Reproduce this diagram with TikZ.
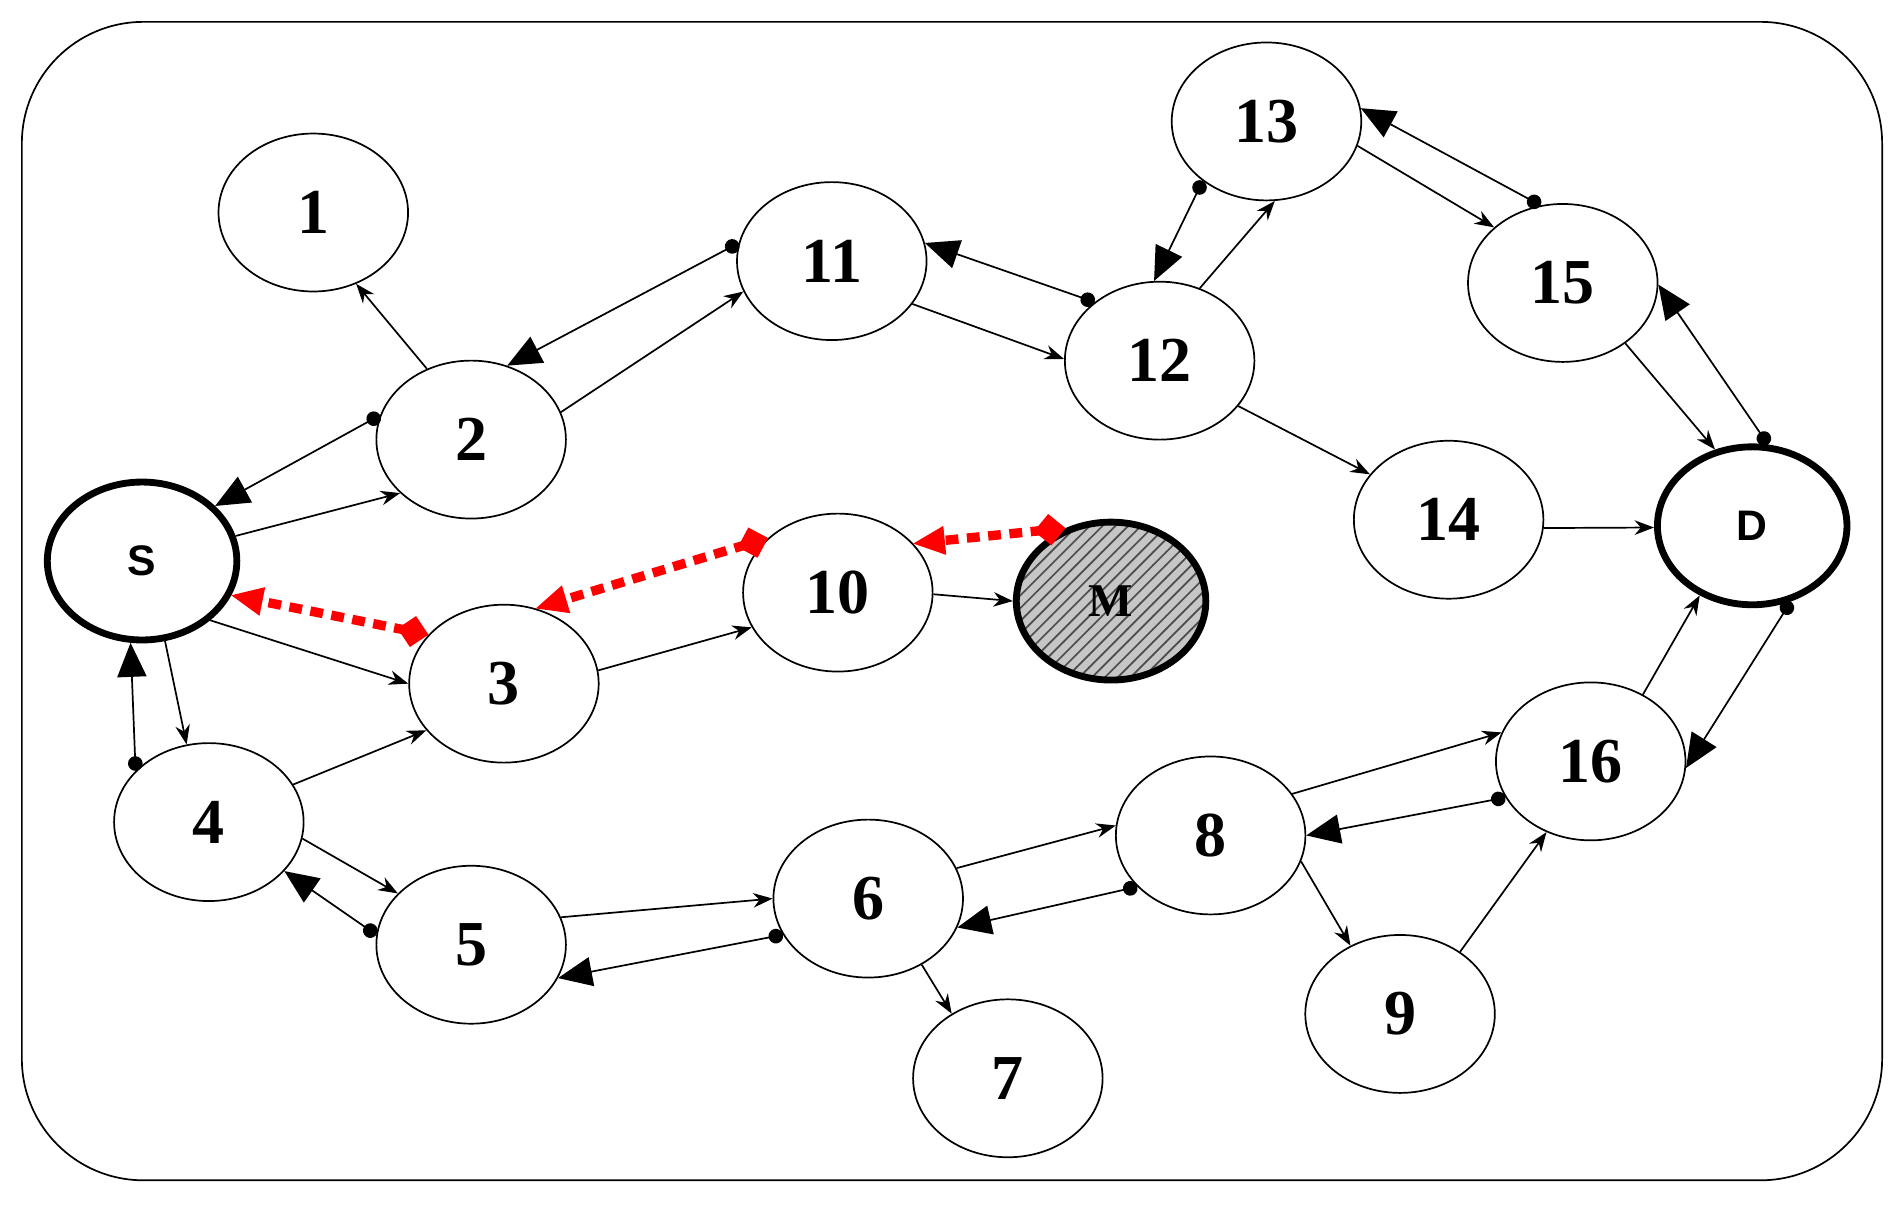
\documentclass[tikz,border=0pt]{standalone}
\usepackage{fontspec}
\setmainfont{Liberation Serif}
\newfontfamily\lsans{Liberation Sans}
\usetikzlibrary{shapes.geometric,arrows.meta,patterns}

\tikzset{
  nd/.style={ellipse, draw, minimum width=1.56cm, minimum height=1.3cm, inner sep=0pt, font=\bfseries\fontsize{15}{15}\selectfont},
  ep/.style={nd, line width=1.6pt, font=\lsans\bfseries\fontsize{10}{10}\selectfont},
  sm/.style={-{Stealth[length=0.16cm,width=0.12cm]}, thin},
  bk/.style={{Circle[length=0.12cm]}-{Triangle[length=0.28cm,width=0.24cm]}, thin},
  rt/.style={{Turned Square[length=0.26cm,width=0.26cm,line width=0pt]}-{Triangle[length=0.26cm,width=0.24cm,line width=0pt]}, red, line width=2.2pt, dash pattern=on 3pt off 2pt}
}

\begin{document}
\begin{tikzpicture}[x=0.01cm,y=-0.01cm]
        \useasboundingbox (0,0) rectangle (1568,993);
        \draw[rounded corners=1cm] (18,18) rectangle (1550,972);

        % nodes
        \node[nd] (n1) at (258,175) {1};
        \node[nd] (n2) at (388,362) {2};
        \node[ep] (S) at (117,462) {S};
        \node[nd] (n3) at (415,563) {3};
        \node[nd] (n4) at (172,677) {4};
        \node[nd] (n5) at (388,778) {5};
        \node[nd] (n6) at (715,740) {6};
        \node[nd] (n7) at (830,888) {7};
        \node[nd] (n8) at (997,688) {8};
        \node[nd] (n9) at (1153,835) {9};
        \node[nd] (n10) at (690,488) {10};
        \node[nd, line width=1.6pt, preaction={fill=gray!45}, pattern=north east lines, pattern color=black!70, font=\bfseries\fontsize{11}{11}\selectfont] (M) at (915,495) {M};
        \node[nd] (n11) at (685,215) {11};
        \node[nd] (n12) at (955,297) {12};
        \node[nd] (n13) at (1043,100) {13};
        \node[nd] (n14) at (1193,428) {14};
        \node[nd] (n15) at (1287,233) {15};
        \node[nd] (n16) at (1310,627) {16};
        \node[ep] (D) at (1443,433) {D};

        % route request
        \draw[sm] (n2.122) -- (n1.-59);
        \draw[sm] (S.15) -- (n2.217);
        \draw[sm] (n2.17) -- (n11.199);
        \draw[sm] (n11.-28) -- (n12.179);
        \draw[sm] (n12.61) -- (n13.-84);
        \draw[sm] (n13.-15) -- (n15.141);
        \draw[sm] (n15.-44) -- (D.116);
        \draw[sm] (n12.-30) -- (n14.150);
        \draw[sm] (n14.-5) -- (D.181);
        \draw[sm] (S.-41) -- (n3.180);
        \draw[sm] (n3.8) -- (n10.202);
        \draw[sm] (n10.-1) -- (M.180);
        \draw[sm] (S.-74) -- (n4.106);
        \draw[sm] (n4.24) -- (n3.211);
        \draw[sm] (n4.-10) -- (n5.145);
        \draw[sm] (n5.17) -- (n6.180);
        \draw[sm] (n6.-51) -- (n7.131);
        \draw[sm] (n6.19) -- (n8.174);
        \draw[sm] (n8.27) -- (n16.162);
        \draw[sm] (n8.-16) -- (n9.126);
        \draw[sm] (n9.46) -- (n16.238);
        \draw[sm] (n16.52) -- (D.233);

        % route reply
        \draw[bk] (n2.165) -- (S.37);
        \draw[bk] (n11.169) -- (n2.64);
        \draw[bk] (n12.138) -- (n11.11);
        \draw[bk] (n13.223) -- (n12.94);
        \draw[bk] (n15.106) -- (n13.8);
        \draw[bk] (D.79) -- (n15.-1);
        \draw[bk] (n4.145) -- (S.262);
        \draw[bk] (n5.174) -- (n4.-33);
        \draw[bk] (n6.203) -- (n5.-21);
        \draw[bk] (n8.215) -- (n6.-18);
        \draw[bk] (n16.203) -- (n8.0);
        \draw[bk] (D.-63) -- (n16.-4);

        % fake reply
        \draw[rt] (M.122) -- (n10.33);
        \draw[rt] (n10.142) -- (n3.67);
        \draw[rt] (n3.147) -- (S.-21);
\end{tikzpicture}
\end{document}
